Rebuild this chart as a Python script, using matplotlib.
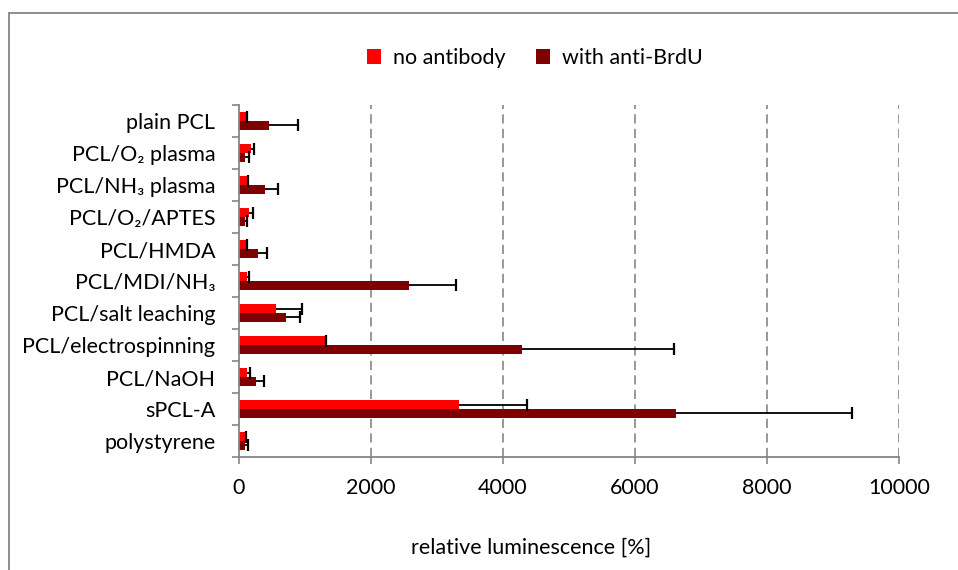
import matplotlib
matplotlib.use("Agg")
import matplotlib.pyplot as plt
import numpy as np
from matplotlib.patches import Patch, Rectangle

plt.rcParams['font.family'] = ['Lato', 'DejaVu Sans']

# Surfaces, listed top to bottom
categories = [
    "plain PCL", "PCL/O\u2082 plasma", "PCL/NH\u2083 plasma", "PCL/O\u2082/APTES",
    "PCL/HMDA", "PCL/MDI/NH\u2083", "PCL/salt leaching", "PCL/electrospinning",
    "PCL/NaOH", "sPCL-A", "polystyrene",
]
no_antibody = [100, 175, 115, 155, 115, 125, 560, 1300, 115, 3340, 90]
no_antibody_err = [20, 45, 15, 50, 10, 20, 400, 20, 45, 1025, 15]
anti_brdu = [455, 90, 395, 90, 295, 2575, 705, 4285, 255, 6615, 90]
anti_brdu_err = [445, 65, 190, 35, 125, 710, 215, 2310, 130, 2680, 45]
x_ticks = [0, 2000, 4000, 6000, 8000, 10000]

series_labels = ["no antibody", "with anti-BrdU"]
colors = ["#FF0000", "#7F0000"]
grey = "#868686"
fs = 15.5

fig = plt.figure(figsize=(9.58, 5.70), dpi=100)
ax = fig.add_axes([239 / 958, 1 - 457 / 570, (899 - 239) / 958, (457 - 105) / 570])

n = len(categories)
y = np.arange(n)
bar_h = 0.28
offsets = [-bar_h / 2, bar_h / 2]

for vals, errs, off, col in zip([no_antibody, anti_brdu], [no_antibody_err, anti_brdu_err],
                                offsets, colors):
    ax.barh(y + off, vals, height=bar_h, color=col, zorder=2)
    eb = ax.errorbar(vals, y + off, xerr=[np.zeros(n), errs], fmt='none', ecolor='black',
                     elinewidth=1.3, capsize=4.0, capthick=1.6, zorder=3)
    # plus-direction only: hide the cap at the bar end
    eb[1][0].set_visible(False)

ax.set_xlim(0, 10000)
ax.set_ylim(n - 0.5, -0.5)

ax.set_xticks(x_ticks)
ax.set_xticklabels([str(t) for t in x_ticks], fontsize=fs)
ax.tick_params(axis='x', length=5, color=grey, width=1.2, pad=10, labelcolor='black')

# category boundaries carry the tick marks, centres carry the labels
ax.set_yticks(np.arange(n + 1) - 0.5)
ax.set_yticklabels([])
ax.tick_params(axis='y', which='major', length=5, color=grey, width=1.2)
ax.set_yticks(y, minor=True)
ax.set_yticklabels(categories, minor=True, fontsize=fs)
ax.tick_params(axis='y', which='minor', length=0, pad=17)

for v in x_ticks[1:]:
    ax.axvline(v, color=grey, lw=1.2, dashes=(5.5, 3.2), zorder=1)

for side in ['top', 'right']:
    ax.spines[side].set_visible(False)
for side in ['left', 'bottom']:
    ax.spines[side].set_color(grey)
    ax.spines[side].set_linewidth(1.3)
    ax.spines[side].set_zorder(4)

fig.text(531 / 958, 1 - 548 / 570, "relative luminescence [%]", ha='center', va='center',
         fontsize=fs)

handles = [Patch(facecolor=c, edgecolor='none') for c in colors]
fig.legend(handles, series_labels, loc='center', bbox_to_anchor=(535 / 958, 1 - 58 / 570),
           ncol=2, frameon=False, fontsize=fs, handlelength=0.65, handleheight=0.65,
           handletextpad=0.55, columnspacing=1.4)

# chart-area border
fig.patches.append(Rectangle((9 / 958, -0.2), 1.5, 1.2 - 13 / 570, transform=fig.transFigure,
                             facecolor='none', edgecolor=grey, lw=1.3))

fig.savefig("out.png", dpi=100)
